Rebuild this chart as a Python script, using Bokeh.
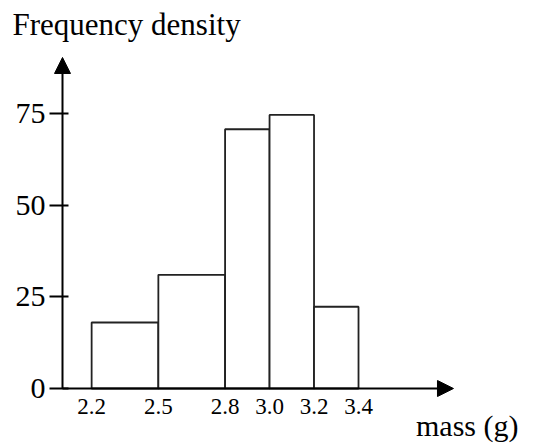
from bokeh.plotting import figure
from bokeh.models import FixedTicker, Arrow, NormalHead, Label, Range1d
from bokeh.embed import file_html
from bokeh.resources import INLINE

# ---- data ----
bin_edges = [2.2, 2.5, 2.8, 3.0, 3.2, 3.4]
frequency_density = [18, 31, 70.7, 74.6, 22.3]
y_ticks = [0, 25, 50, 75]
x_tick_labels = ["2.2", "2.5", "2.8", "3.0", "3.2", "3.4"]
y_title = "Frequency density"
x_title = "mass (g)"

# ---- layout ----
W, H = 533, 445
PX_X = 222.4      # pixels per gram
PX_Y = 3.667      # pixels per density unit
AXIS_X = 2.069    # where the vertical axis crosses
AXIS_X_END = 3.827
AXIS_Y_END = 90.27
x_lo = AXIS_X - 62 / PX_X
y_lo = -(H - 388) / PX_Y
FONT = "Liberation Serif"

p = figure(width=W, height=H, output_backend="svg", toolbar_location=None,
           x_range=Range1d(x_lo, x_lo + W / PX_X), y_range=Range1d(y_lo, y_lo + H / PX_Y),
           min_border=0, min_border_left=0, min_border_right=0,
           min_border_top=0, min_border_bottom=0)
p.outline_line_color = None
p.grid.visible = False
p.background_fill_color = "white"
p.border_fill_color = "white"

# x axis
xa = p.xaxis[0]
xa.fixed_location = 0
xa.ticker = FixedTicker(ticks=bin_edges)
xa.major_label_overrides = {e: l for e, l in zip(bin_edges, x_tick_labels)}
xa.axis_line_color = None
xa.major_tick_in = 0
xa.major_tick_out = 0
xa.minor_tick_line_color = None
xa.major_label_standoff = 10
xa.major_label_text_font = FONT
xa.major_label_text_font_size = "23px"
xa.major_label_text_color = "black"

# y axis
ya = p.yaxis[0]
ya.fixed_location = AXIS_X
ya.ticker = FixedTicker(ticks=y_ticks)
ya.axis_line_color = None
ya.major_tick_in = 6
ya.major_tick_out = 13
ya.major_tick_line_width = 2
ya.major_tick_line_color = "black"
ya.minor_tick_line_color = None
ya.major_label_standoff = 4
ya.major_label_text_font = FONT
ya.major_label_text_font_size = "30px"
ya.major_label_text_color = "black"

# bars
p.quad(left=bin_edges[:-1], right=bin_edges[1:], bottom=0, top=frequency_density,
       fill_color="white", line_color="#222222", line_width=1.8)

# axis arrows
p.add_layout(Arrow(end=NormalHead(size=16, fill_color="black", line_color="black", line_width=1),
                   x_start=AXIS_X, y_start=0, x_end=AXIS_X, y_end=AXIS_Y_END,
                   line_width=2, line_color="black"))
p.add_layout(Arrow(end=NormalHead(size=16, fill_color="black", line_color="black", line_width=1),
                   x_start=AXIS_X, y_start=0, x_end=AXIS_X_END, y_end=0,
                   line_width=2, line_color="black"))

# titles
p.add_layout(Label(x=AXIS_X - 50 / PX_X, y=(388 - 35) / PX_Y, y_offset=11, text=y_title,
                   text_font=FONT, text_font_size="31px", text_baseline="alphabetic",
                   text_color="black"))
p.add_layout(Label(x=AXIS_X + (518 - 62) / PX_X, y=(388 - 437) / PX_Y, y_offset=12, text=x_title,
                   text_font=FONT, text_font_size="30px", text_align="right",
                   text_baseline="alphabetic", text_color="black"))

open("out.html", "w").write(file_html(p, INLINE))
